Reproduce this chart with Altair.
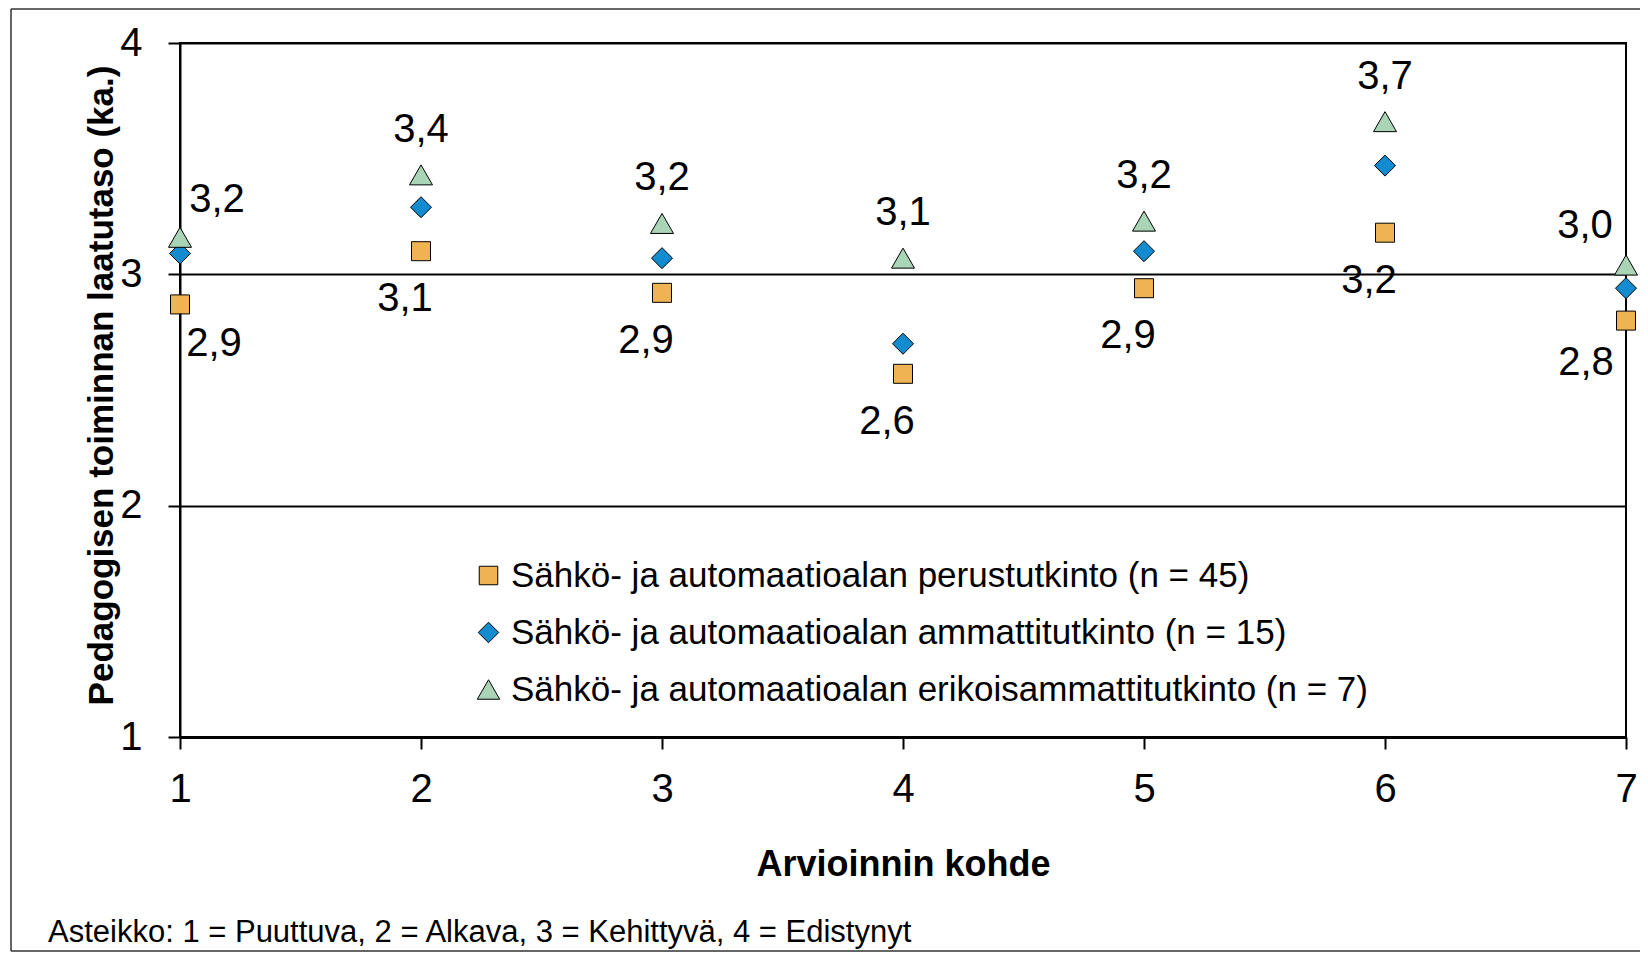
import altair as alt
import pandas as pd

# ---- data ----
kohteet = [1, 2, 3, 4, 5, 6, 7]
sarjat = [
    "Sähkö- ja automaatioalan perustutkinto (n = 45)",
    "Sähkö- ja automaatioalan ammattitutkinto (n = 15)",
    "Sähkö- ja automaatioalan erikoisammattitutkinto (n = 7)",
]
perustutkinto = [2.87, 3.10, 2.92, 2.57, 2.94, 3.18, 2.80]
ammattitutkinto = [3.09, 3.29, 3.07, 2.70, 3.10, 3.47, 2.94]
erikoisammattitutkinto = [3.16, 3.43, 3.22, 3.07, 3.23, 3.66, 3.04]
y_ticks = [1, 2, 3, 4]
x_ticks = [1, 2, 3, 4, 5, 6, 7]
footnote = "Asteikko: 1 = Puuttuva, 2 = Alkava, 3 = Kehittyvä, 4 = Edistynyt"

# ---- styles ----
FONT = "Liberation Sans"
colors = ["#EFB353", "#128BCF", "#A9D4B6"]
outline = ["black", "black", "black"]
# symbol outlines in Vega's unit space (scaled by sqrt(size)/2)
shapes = [
    "M-0.95,-0.95L0.95,-0.95L0.95,0.95L-0.95,0.95Z",
    "M0,-1.05L1.05,0L0,1.05L-1.05,0Z",
    "M0,-1L1.15,1L-1.15,1Z",
]

rows = []
for s, vals in zip(sarjat, [perustutkinto, ammattitutkinto, erikoisammattitutkinto]):
    for k, v in zip(kohteet, vals):
        rows.append({"kohde": k, "arvo": v, "sarja": s,
                     "label": f"{v:.1f}".replace(".", ",")})
df = pd.DataFrame(rows)

x_enc = alt.X(
    "kohde:Q",
    scale=alt.Scale(domain=[1, 7], nice=False, zero=False),
    axis=alt.Axis(
        values=x_ticks, format="d", title="Arvioinnin kohde",
        labelFontSize=40, labelPadding=20, labelFlush=False, labelOverlap=False,
        tickSize=12, tickWidth=2, tickColor="black",
        domainWidth=3, domainColor="black", grid=False,
        titleFontSize=36, titleFontWeight="bold", titleBaseline="top", titleY=110,
        labelColor="black", titleColor="black",
    ),
)
y_enc = alt.Y(
    "arvo:Q",
    scale=alt.Scale(domain=[1, 4], nice=False, zero=False),
    axis=alt.Axis(
        values=y_ticks, format="d", title="Pedagogisen toiminnan laatutaso (ka.)",
        labelFontSize=40, labelPadding=26, labelFlush=False, labelOverlap=False,
        tickSize=12, tickWidth=2, tickColor="black",
        domainWidth=2, domainColor="black",
        grid=True, gridColor="black", gridWidth=2, gridOpacity=1,
        titleFontSize=35, titleFontWeight="bold", titleAngle=270,
        titleBaseline="alphabetic", titleX=-68, titleY=342,
        labelColor="black", titleColor="black",
    ),
)

legend = alt.Legend(
    title=None, orient="none", legendX=291, legendY=515,
    labelFontSize=35, labelLimit=0, labelOffset=5, padding=0,
    rowPadding=21, symbolSize=380, symbolStrokeColor="black",
    symbolStrokeWidth=1, labelColor="black",
)

base = alt.Chart(df)

points = base.mark_point(filled=True, strokeWidth=1, opacity=1, size=400).encode(
    x=x_enc,
    y=y_enc,
    fill=alt.Fill("sarja:N", scale=alt.Scale(domain=sarjat, range=colors), legend=legend),
    stroke=alt.Stroke("sarja:N", scale=alt.Scale(domain=sarjat, range=outline), legend=legend),
    shape=alt.Shape("sarja:N", scale=alt.Scale(domain=sarjat, range=shapes), legend=legend),
)


def label_layer(series, points_sel, dx, dy):
    return base.transform_filter(
        alt.FieldEqualPredicate(field="sarja", equal=series)
    ).transform_filter(
        alt.FieldOneOfPredicate(field="kohde", oneOf=points_sel)
    ).mark_text(dx=dx, dy=dy, fontSize=40, align="center", baseline="middle",
                color="black").encode(x="kohde:Q", y="arvo:Q", text="label:N")


labels = [
    label_layer(sarjat[2], [1], 37, -37),
    label_layer(sarjat[2], [2, 3, 4, 5, 6], 0, -45),
    label_layer(sarjat[2], [7], -41, -39),
    label_layer(sarjat[0], [1], 34, 40),
    label_layer(sarjat[0], [2, 3, 4, 5, 6], -16, 48),
    label_layer(sarjat[0], [7], -40, 42),
]

one = alt.Chart(pd.DataFrame({"t": [footnote]}))
note = one.mark_text(align="left", baseline="alphabetic", fontSize=31, color="black").encode(
    x=alt.value(-132), y=alt.value(899), text="t:N"
)
frame_style = dict(color="#333333", strokeWidth=1.5)
frame_top = one.mark_rule(**frame_style).encode(
    x=alt.value(-169), x2=alt.value(1470), y=alt.value(-34))
frame_bottom = one.mark_rule(**frame_style).encode(
    x=alt.value(-169), x2=alt.value(1470), y=alt.value(908))
frame_left = one.mark_rule(**frame_style).encode(
    x=alt.value(-169), y=alt.value(-34), y2=alt.value(908))

chart = alt.layer(frame_top, frame_bottom, frame_left, points, *labels, note).properties(
    width=1446, height=694,
    autosize=alt.AutoSizeParams(type="none"),
    padding={"left": 172, "top": 35, "right": 14, "bottom": 216},
).configure(font=FONT).configure_view(stroke="black", strokeWidth=2)

chart.save("out.html", embed_options={"renderer": "svg", "actions": False})
